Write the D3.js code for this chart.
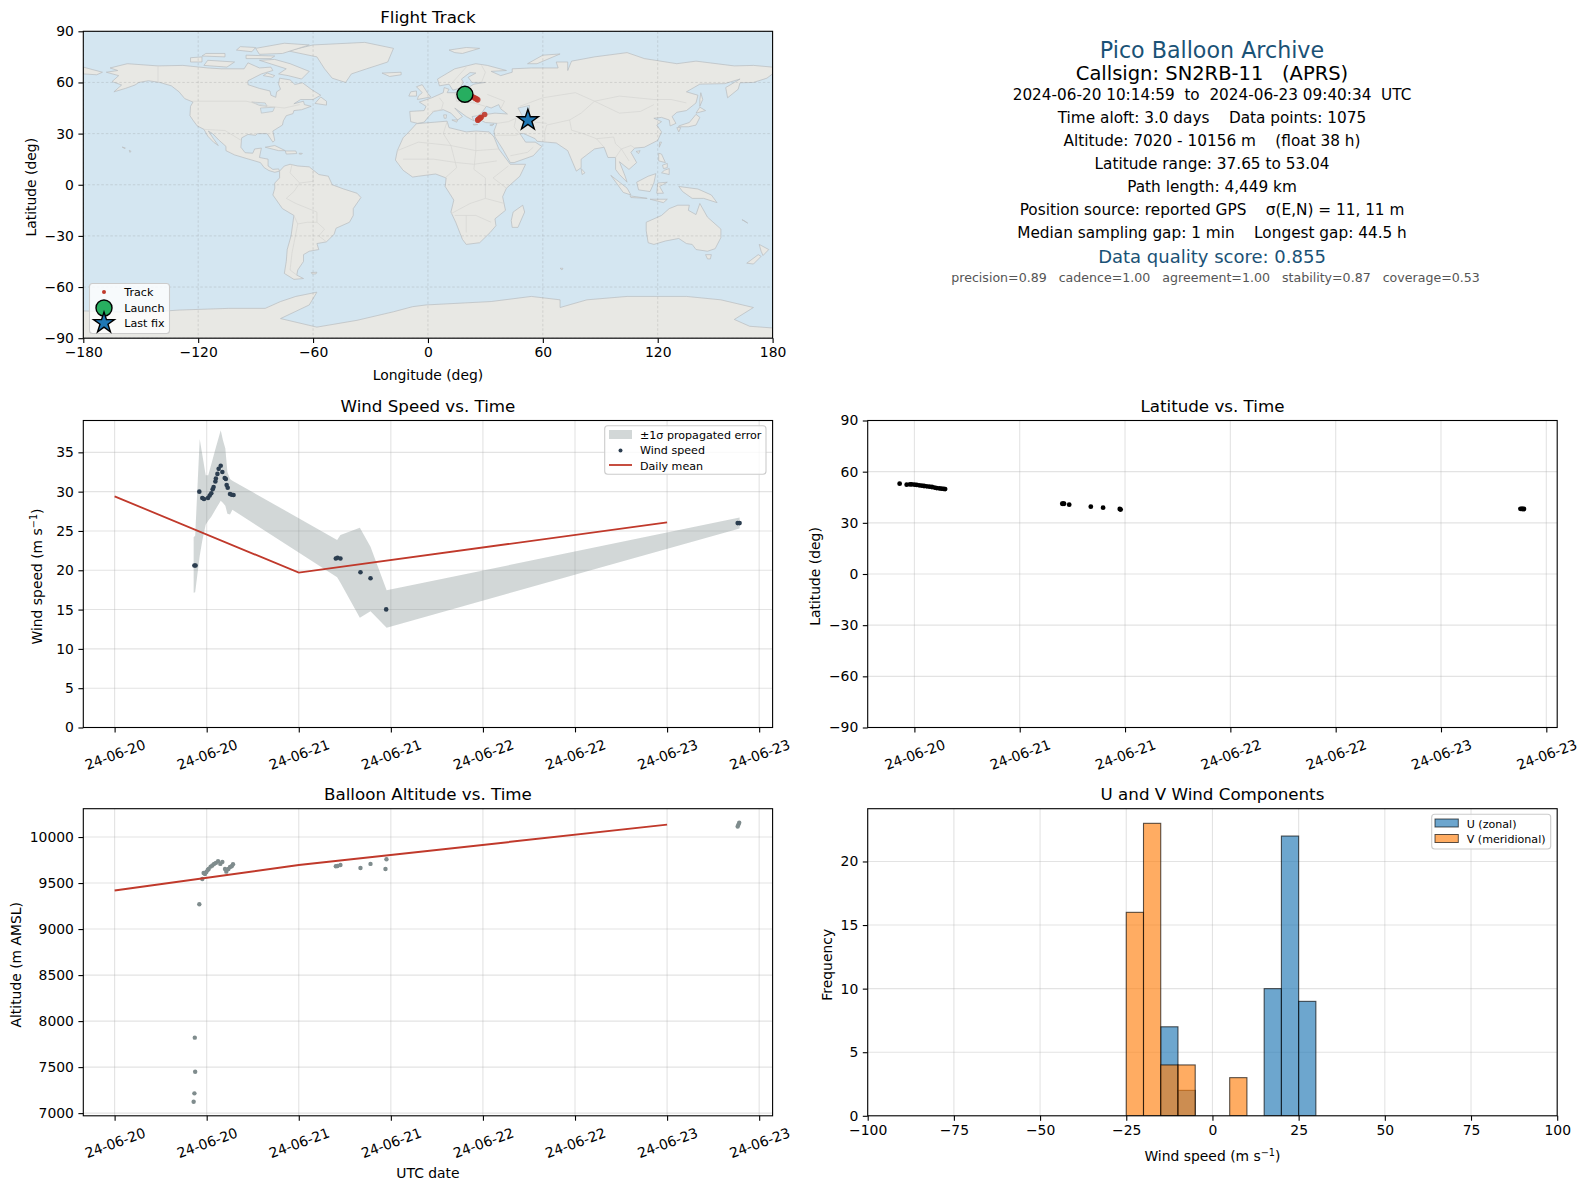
<!DOCTYPE html>
<html>
<head>
<meta charset="utf-8">
<script src="https://cdn.jsdelivr.net/npm/d3@7"></script>
<style>
  html, body { margin: 0; padding: 0; background: #fff; }
  svg { display: block; }
  text { font-family: "DejaVu Sans", sans-serif; }
  .axis path, .axis line { stroke: #000; stroke-width: 1.1; }
  .axis text { font-size: 13.9px; }
</style>
</head>
<body>
<svg id="chart" width="1588" height="1189"></svg>
<script>
// Header block
const headerLines = [
  'Time aloft: 3.0 days    Data points: 1075',
  'Altitude: 7020 - 10156 m    (float 38 h)',
  'Latitude range: 37.65 to 53.04',
  'Path length: 4,449 km',
  'Position source: reported GPS    σ(E,N) = 11, 11 m',
  'Median sampling gap: 1 min    Longest gap: 44.5 h'
];

// Land outlines, [lon, lat]
const landPolygons = [
  // North America
  [[-168,66],[-162,67],[-166,68.5],[-157,71],[-141,69.7],[-128,70],[-115,68.5],[-108,68],[-96,68],[-94,71.5],[-88,68.5],[-82,69],[-81,67],[-87,65],[-94,61],[-94,58.7],[-88,56.5],[-82.5,55],[-82,52.5],[-79.5,51.3],[-79,54.5],[-77,56],[-78,59],[-77.5,62.5],[-72,61.5],[-69.5,58.8],[-65.5,59.8],[-61,56],[-56,52.5],[-60,50],[-66.5,50],[-70,47.5],[-65,49],[-64.5,47],[-61,46],[-66,44],[-70,43.5],[-70.5,41.7],[-74,40.5],[-75.5,37.5],[-76,35],[-81,31.5],[-80,26],[-81,25],[-82.8,28],[-84,30],[-89,30],[-90,29],[-94,29.5],[-97.3,27.5],[-97.7,22],[-95.5,18.8],[-91.5,18.5],[-90.5,21],[-87,21.5],[-88,16],[-83.5,15],[-83.5,11],[-81,9],[-78,9.3],[-77.5,8],[-80,7.3],[-83,8.3],[-85.5,10],[-87.5,13],[-92,14.5],[-96,15.8],[-101,17.5],[-105.5,20],[-105.5,22.5],[-109,26],[-112.5,30],[-114.7,31.5],[-112,27],[-109.5,23],[-112,25],[-115,28.5],[-117,32.5],[-120.5,34.5],[-122.5,37.5],[-124.3,40.5],[-124,46],[-122.7,48.5],[-127,50.5],[-130,54.5],[-134,58],[-140,60],[-146,61],[-151,60],[-153,58.5],[-158,56.5],[-164,54.5],[-160,58.5],[-165,60.5],[-161.5,64],[-168,66]],
  // Greenland and Arctic islands
  [[-73,78.5],[-60,82],[-33,83.5],[-18,80],[-21,72],[-32,68],[-40,65],[-43,60],[-50,62.5],[-54,68],[-58,75],[-73,78.5]],
  [[-80,73.5],[-72,71],[-62,66.5],[-66,62],[-73,64],[-78,65],[-74,68],[-88,73]],
  [[-117,70],[-105,69],[-101,72],[-115,73]],
  [[-90,80],[-75,83],[-62,82],[-76,77],[-88,76.5]],
  [[-124,72],[-118,72],[-118,75],[-124,74.5]],
  [[-95,74],[-82,74],[-80,75.5],[-95,76]],
  [[-118,75.5],[-106,75],[-106,77],[-116,77]],
  [[-100,79],[-92,78],[-90,80.5],[-98,81]],
  [[-84,65.5],[-80,64],[-81,63],[-86,64]],
  [[-59,47.7],[-53,46.7],[-53,49],[-56,51.5]],
  // Caribbean and Hawaii
  [[-85,22],[-80,23],[-74.5,20],[-78,20]],
  [[-74.5,19.8],[-69,19.8],[-68.5,18.3],[-74,18]],
  [[-67.2,18.5],[-65.6,18.4],[-66,17.9],[-67.2,18]],
  [[-156,20.2],[-155,19.6],[-155.7,19]],
  [[-159.7,22.1],[-158,21.6],[-158.3,21.2]],
  // South America
  [[-77.5,8],[-75,11],[-72,12],[-68,11],[-62,10.5],[-57,6],[-52,5],[-50,0],[-44,-2.5],[-37,-5],[-35,-7.5],[-39,-14],[-39,-18],[-41,-22],[-48,-25.5],[-49,-29],[-53,-33.5],[-58,-34.5],[-57,-38],[-62,-39],[-65,-41],[-65,-45],[-68,-50],[-68.5,-53],[-65,-55],[-70,-55.5],[-75,-52],[-74,-45],[-73.5,-38],[-71.5,-30],[-70,-18],[-76,-14],[-81,-6],[-80,-2],[-80,1],[-77.5,4]],
  [[-61,-51.5],[-58,-51.3],[-58.5,-52.3],[-60.5,-52.3]],
  // Africa
  [[-6,35.8],[10,37.3],[11,33.5],[20,31],[25,31.5],[32,31],[34.5,28],[37,21],[43,12],[51,12],[48,5],[41,-2],[39,-7],[40.5,-15],[35,-20],[35.5,-24],[32.5,-28],[27,-34],[20,-35],[18,-32],[14.5,-22],[12,-16],[13.5,-9],[9,-1],[9.5,4],[4,6.3],[-5,5],[-8,4.5],[-13,8.5],[-17,14.5],[-16,20],[-13,27.5],[-9.5,31.5]],
  [[49.5,-12],[50.5,-16],[47,-25],[44,-25],[43.5,-21],[44.5,-16]],
  // Eurasia
  [[-9,37],[-9.5,43],[-2,43.5],[-1,46],[-4.5,48.5],[2,51],[8,54],[8.5,57],[11,56],[10,54],[14,54],[19,54.5],[21,57],[24,59],[30,60],[23,60],[21,63],[25,65.5],[22,65.8],[17.5,62],[18.5,60],[16.5,56.5],[13,55.5],[11,59],[6,58],[5,62],[14,68],[25,71],[31,70],[41,67],[33,66.5],[38,64],[44,66],[44,68],[54,68.5],[68,68.5],[67,72],[73,72],[73,67],[75,72.5],[87,75],[104,77.5],[113,74],[130,71],[140,72.5],[160,69.7],[170,70],[180,69],[180,65],[177,62.5],[170,60],[163,59.8],[162,56],[156.5,51],[155.5,57],[163,62],[155,59.3],[142,59],[135,54.5],[141,52.5],[140,48],[135,43.5],[130,42.5],[127.5,40],[129.5,36],[126.5,34.5],[126,38],[122,39.5],[118,39],[122,37],[119.5,35],[122,31],[120,26],[113,22],[108,21.5],[106,19],[109,13],[105,9],[100,13.5],[103,5],[104,1.5],[100,6],[98,9],[98,16],[94,16],[92,22],[87,21],[80,15],[80,10],[77.5,8],[73,20],[67,24.5],[57,25.5],[56,27],[50,30],[48,30],[51,25],[56,25],[59.5,22.5],[55,17],[45,13],[43,13],[39,21],[35,28],[34.5,31.5],[36,36],[30,36.5],[26.5,38.5],[26,40],[29,41],[35,42],[41.5,41.5],[38,44.5],[37,47],[33,45],[30.5,46],[28,42],[26,40.5],[23,40],[24,37.5],[20,40],[14,45],[18,40],[15.5,38],[12,42],[8,44],[3,43],[0,39.5],[-2,36.7],[-5.5,36]],
  [[-180,69],[-175,67.5],[-170,66],[-173,64.5],[-180,65]],
  // European and Arctic islands
  [[11,79],[20,80.5],[27,80],[18,77],[14,77.5]],
  [[52,71],[57,71],[69,76.7],[60,76]],
  [[-24,65.5],[-14,66],[-14,64.5],[-20,63.5]],
  [[-5.5,50],[1.5,51.5],[0,53.5],[-2,57],[-3,58.7],[-6,57.5],[-3,54],[-5,52]],
  [[-10,52],[-6,52],[-6,55],[-9,54.5]],
  [[12.5,38],[15.5,38],[15,36.7]],
  [[8.2,41],[9.7,41],[9.5,39],[8.5,39]],
  [[23.5,35.5],[26,35.3],[24,35]],
  [[32.3,35],[34.5,35.6],[33.5,34.6]],
  // East Asia
  [[130.9,34],[136,34],[140,35],[142,39.5],[140,41.3],[136.5,36.5],[131,34.5]],
  [[140,42],[145,43.5],[142,45.5]],
  [[130,33.5],[132,33.5],[131,31]],
  [[142,46],[143.5,50],[142.5,54],[142,50]],
  [[121,25],[122,25],[120.8,22]],
  [[108.7,19.5],[110.8,20],[110,18.3]],
  [[80,9.5],[82,7],[80.5,6]],
  // Maritime south-east Asia
  [[120.5,18.5],[122,18],[124,13],[120.5,14]],
  [[122,7],[126,6],[126,9.5],[123.5,8.5]],
  [[122.5,11.5],[125,12.5],[125,10],[123,9.5]],
  [[95.5,5.5],[104,-2],[106,-6],[102,-4.5]],
  [[105.5,-6.5],[114.5,-8],[106,-7.5]],
  [[109,1.5],[115,5],[119,6.5],[118,1],[116,-4],[110,-3]],
  [[119.5,-5],[120,1],[125,1.5],[121,-1],[123,-5]],
  [[116,-8.5],[125,-8.5],[123,-10.5]],
  [[131,-1],[141,-2.5],[148,-6],[151,-10.5],[144,-8],[138,-8],[133,-4]],
  // Australia and New Zealand
  [[114,-22],[122,-18],[126,-14],[130.5,-12],[136.5,-12],[136,-15],[140,-17.5],[142,-11],[146,-19],[153,-26],[153,-31],[150,-37.5],[146,-39],[140,-38],[138,-35],[135,-34.5],[131,-31.5],[124,-33],[118,-35],[115,-34],[114,-27]],
  [[145,-41],[148,-41],[147.5,-43.5],[146,-43.5]],
  [[173,-35],[178,-38],[175,-41.5],[174,-39]],
  [[172.5,-41],[174,-42],[170,-46.5],[166.5,-46]],
  [[165,-21],[167,-22.5],[164,-20.5]],
  [[69,-49],[70.5,-49],[70,-50]],
  // Antarctica
  [[-180,-90],[-180,-74],[-150,-75],[-130,-73.5],[-104,-72.5],[-85,-72.5],[-77,-68.5],[-69,-65.5],[-58,-63],[-62,-70.5],[-77,-78.5],[-58,-83.5],[-37,-79.5],[-18,-74.5],[-8,-71.5],[-1,-70.5],[33,-68.5],[54,-65.5],[69,-67.5],[69,-72],[83,-67.5],[104,-65.5],[135,-65.5],[153,-67.5],[170,-72],[160,-79],[168,-83],[180,-84],[180,-90]]
];

const lakePolygons = [
  [[47,45],[53,46.5],[53,40],[54,37],[50,37],[49,41]],
  [[-92,48.5],[-85,48],[-84,46],[-88,46.5]],
  [[-87.5,45],[-80,45.5],[-81,43],[-87,42]]
];

// Country borders, [lon, lat]
const borderLines = [
  [[-123,49],[-95,49],[-83,46],[-75,45],[-67,47]],
  [[-141,70],[-141,60]],
  [[-117,32.5],[-106,31.8],[-97.5,26]],
  [[-71,12],[-72,7],[-67,1],[-70,-4],[-74,-8],[-69,-11],[-58,-16],[-58,-22],[-54,-26],[-57,-30],[-53,-33.5]],
  [[-60,8],[-60,2],[-67,1]],
  [[-70,-18],[-68,-23],[-71,-40],[-72,-50],[-68.5,-53]],
  [[-58,-22],[-63,-22],[-68,-23]],
  [[-16,20],[-5,25],[12,23],[25,20],[37,21]],
  [[10,37],[8,30],[12,23],[15,10],[9,4]],
  [[25,31],[25,20],[24,9],[30,4],[30,-8],[22,-11],[12,-17]],
  [[-13,15],[3,15],[15,13],[24,12],[36,14]],
  [[30,-8],[40,-11]],[[14,-18],[25,-18],[33,-22]],[[20,-28],[20,-18]],
  [[34,4],[41,-2]],[[34,4],[42,11]],
  [[2,43],[7,44],[8,48],[6,51]],[[14,54],[15,49],[24,48],[30,46]],[[24,54],[24,48]],[[31,53],[40,49],[38,44.5]],
  [[28,60],[30,66],[28,70]],[[12,59],[20,69]],
  [[48,46],[60,51],[77,54],[87,49],[100,52],[118,50],[127,50],[135,48]],
  [[87,49],[80,42],[74,38],[62,35],[61,31],[61,25]],
  [[54,37],[62,36]],[[46,39],[45,34],[48,30]],[[36,36],[42,37],[46,39]],[[35,29],[46,29],[48,30]],[[43,17],[52,19],[55,22]],
  [[74,38],[75,32],[81,30],[88,27],[97,28],[98,24],[101,21],[106,23],[108,21.5]],
  [[88,27],[92,22]],[[98,16],[101,21]],[[101,21],[105,14]],
  [[87,49],[100,42],[111,43],[118,47]]
];

// Track fixes
const trackLon = [19.3, 21, 22.5, 23.5, 24.3, 24.9, 25.5, 26, 29.6, 27.8, 27.3, 26.8, 26.3, 26, 52.2];
const trackLat = [53.04, 52.4, 52, 51.5, 51, 50.6, 50.2, 49.8, 41.2, 39.6, 39.2, 38.7, 38.2, 37.9, 38];
const launchFix = [19.3, 53.04];
const lastFix = [52.2, 37.9];

// Times are hours after 2024-06-20 00:00 UTC
const windHours = [10.4, 10.55, 11.04, 11.43, 11.65, 12.17, 12.39, 12.6, 12.78, 12.9, 13.13, 13.2, 13.4, 13.56, 13.83, 14.04, 14.35, 14.5, 14.6, 14.74, 15.04, 15.26, 15.5, 28.83, 29.05, 29.43, 32.04, 33.35, 35.39, 81.2, 81.45];
const windSpeed = [20.6, 20.6, 30.0, 29.2, 29.06, 29.2, 29.5, 29.8, 30.3, 30.6, 31.3, 31.66, 32.26, 32.9, 33.3, 32.5, 31.74, 31.6, 30.85, 30.5, 29.7, 29.6, 29.57, 21.5, 21.6, 21.5, 19.74, 18.98, 15.02, 26.0, 26.0];

const bandHours = [10.3, 10.5, 11.09, 11.43, 11.87, 12.2, 12.6, 13.13, 13.83, 14.13, 14.43, 14.7, 15.04, 15.35, 29, 29.43, 31.96, 33.35, 35.45, 81.45];
const bandUpper = [24.2, 24.4, 36.7, 34.7, 32.1, 32.1, 33.5, 35.4, 37.8, 36.5, 35.5, 32.5, 31.6, 31.4, 23.85, 24.5, 25.4, 23.0, 17.45, 26.7];
const bandLower = [17.15, 17.2, 21.8, 23.8, 25.8, 26.3, 26.8, 27.7, 28.85, 28.55, 28.2, 27.2, 27.1, 27.7, 19.1, 18.4, 13.97, 14.8, 12.7, 25.3];

const dailyHours = [0, 24, 72];
const dailyWind = [29.4, 19.7, 26.1];
const dailyAltitude = [9420, 9695, 10135];

const altHours = [10.3, 10.4, 10.5, 10.45, 11.04, 11.43, 11.6, 11.78, 11.96, 12.13, 12.26, 12.52, 12.74, 12.96, 13.2, 13.48, 13.78, 14.04, 14.39, 14.56, 14.83, 15.04, 15.26, 15.43, 28.83, 29.05, 29.43, 32.04, 33.35, 35.3, 35.43, 81.2, 81.3, 81.4];
const altitude = [7123, 7215, 7450, 7820, 9270, 9544, 9609, 9599, 9620, 9642, 9653, 9679, 9690, 9708, 9719, 9737, 9708, 9730, 9653, 9624, 9653, 9675, 9682, 9704, 9682, 9686, 9697, 9664, 9708, 9653, 9759, 10115, 10135, 10156];

const latHours = [10.32, 11.12, 11.5, 11.7, 12, 12.27, 12.55, 12.84, 13.1, 13.4, 13.7, 14, 14.3, 14.55, 14.85, 15.1, 15.35, 15.5, 28.85, 28.95, 29.05, 29.64, 32.1, 33.5, 35.4, 35.5, 81.05, 81.2, 81.3, 81.45];
const latitude = [52.97, 52.4, 52.5, 52.6, 52.4, 52.2, 52, 51.8, 51.6, 51.4, 51.2, 51, 50.7, 50.4, 50.2, 50, 49.9, 49.8, 41.2, 41.25, 41.2, 40.65, 39.5, 38.9, 38.1, 37.8, 38.2, 38.2, 38.1, 38.1];

// Histogram bins, [left edge, count]
const uBins = [[-15, 7], [-10, 2], [15, 10], [20, 22], [25, 9]];
const vBins = [[-25, 16], [-20, 23], [-15, 4], [-10, 4], [5, 3]];
const binWidth = 5;

// Axis ticks and labels
const lonTicks = [-180, -120, -60, 0, 60, 120, 180];
const latTicks = [-90, -60, -30, 0, 30, 60, 90];
const windTicks = [0, 5, 10, 15, 20, 25, 30, 35];
const altTicks = [7000, 7500, 8000, 8500, 9000, 9500, 10000];
const leftTimeTicks = [0, 12, 24, 36, 48, 60, 72, 84];
const rightTimeTicks = [12, 24, 36, 48, 60, 72, 84];
const histXTicks = [-100, -75, -50, -25, 0, 25, 50, 75, 100];
const histYTicks = [0, 5, 10, 15, 20];

const RED = '#c0392b';
const NAVY = '#1a5276';
const GRID = '#b0b0b0';

const svg = d3.select('#chart');
const hoursToDate = h => new Date(Date.UTC(2024, 5, 20) + h * 3600000);
const dateFmt = d3.utcFormat('%y-%m-%d');

// Panel boxes
const boxes = {
  map:  { l: 83.3, r: 772.6, t: 31.3, b: 338.2 },
  wind: { l: 83.3, r: 772.6, t: 420.5, b: 727.5 },
  lat:  { l: 867.7, r: 1557.2, t: 420.5, b: 727.5 },
  alt:  { l: 83.3, r: 772.6, t: 808.7, b: 1115.8 },
  hist: { l: 867.7, r: 1557.2, t: 808.7, b: 1115.8 }
};

let clipCount = 0;

// Text with a mathtext style m s^-1 unit
function unitText(sel, label) {
  sel.append('tspan').text(label);
  sel.append('tspan').attr('font-size', 9.7).attr('dy', -5).text('−1');
  sel.append('tspan').attr('dy', 5).text(')');
}

function panel(box, xScale, yScale, opts) {
  const g = svg.append('g');
  const id = 'clip' + (clipCount++);
  g.append('clipPath').attr('id', id).append('rect')
    .attr('x', box.l).attr('y', box.t).attr('width', box.r - box.l).attr('height', box.b - box.t);

  const plot = g.append('g').attr('clip-path', `url(#${id})`);
  if (opts.background) {
    opts.background(plot);
  }

  // Grid below the marks
  const grid = plot.append('g')
    .attr('stroke', opts.gridColor || GRID)
    .attr('stroke-opacity', opts.gridOpacity || 0.35)
    .attr('stroke-width', opts.gridWidth || 1.1)
    .attr('stroke-dasharray', opts.gridDash || null);
  opts.xTicks.forEach(v => {
    grid.append('line').attr('x1', xScale(opts.xValue(v))).attr('x2', xScale(opts.xValue(v)))
      .attr('y1', box.t).attr('y2', box.b);
  });
  opts.yTicks.forEach(v => {
    grid.append('line').attr('y1', yScale(v)).attr('y2', yScale(v))
      .attr('x1', box.l).attr('x2', box.r);
  });

  opts.marks(plot);

  // Axes
  const xAxis = d3.axisBottom(xScale)
    .tickValues(opts.xTicks.map(opts.xValue))
    .tickFormat(opts.xFormat)
    .tickSize(4.9).tickPadding(4.5);
  const xg = g.append('g').attr('class', 'axis')
    .attr('transform', `translate(0,${box.b})`).call(xAxis);
  if (opts.rotateX) {
    xg.selectAll('.tick text')
      .attr('text-anchor', 'middle')
      .attr('dominant-baseline', 'central')
      .attr('y', 0).attr('dy', 0)
      .attr('transform', 'translate(0,27) rotate(-20)');
  }
  const yAxis = d3.axisLeft(yScale).tickValues(opts.yTicks)
    .tickFormat(opts.yFormat || (v => String(v).replace('-', '−')))
    .tickSize(4.9).tickPadding(4.5);
  g.append('g').attr('class', 'axis').attr('transform', `translate(${box.l},0)`).call(yAxis);
  g.selectAll('.domain').remove();

  g.append('rect').attr('x', box.l).attr('y', box.t)
    .attr('width', box.r - box.l).attr('height', box.b - box.t)
    .attr('fill', 'none').attr('stroke', '#000').attr('stroke-width', 1.1);

  // Labels
  g.append('text').attr('x', (box.l + box.r) / 2).attr('y', box.t - (opts.titleGap || 9))
    .attr('text-anchor', 'middle').attr('font-size', 16.7).text(opts.title);
  if (opts.xLabel) {
    const xl = g.append('text').attr('x', (box.l + box.r) / 2).attr('y', opts.xLabelY)
      .attr('text-anchor', 'middle').attr('font-size', 13.9);
    if (opts.xLabelUnit) unitText(xl, opts.xLabel);
    else xl.text(opts.xLabel);
  }
  const yl = g.append('text')
    .attr('transform', `translate(${opts.yLabelX},${(box.t + box.b) / 2 + 2.5}) rotate(-90)`)
    .attr('text-anchor', 'middle').attr('font-size', 13.9);
  if (opts.yLabelUnit) unitText(yl, opts.yLabel);
  else yl.text(opts.yLabel);
  return g;
}

function legendBox(x, y, w, h) {
  svg.append('rect').attr('x', x).attr('y', y).attr('width', w).attr('height', h)
    .attr('rx', 3).attr('fill', '#fff').attr('fill-opacity', 0.8)
    .attr('stroke', '#ccc').attr('stroke-width', 1.1);
}

function legendText(x, y, str) {
  svg.append('text').attr('x', x).attr('y', y).attr('font-size', 11.1)
    .attr('dominant-baseline', 'central').text(str);
}

const starPath = d3.symbol().type(d3.symbolStar).size(135)();

// Flight track map
{
  const box = boxes.map;
  const x = d3.scaleLinear().domain([-180, 180]).range([box.l, box.r]);
  const y = d3.scaleLinear().domain([-90, 90]).range([box.b, box.t]);
  const ring = d3.line().x(d => x(d[0])).y(d => y(d[1]));
  panel(box, x, y, {
    title: 'Flight Track', titleGap: 8,
    xTicks: lonTicks, yTicks: latTicks, xValue: v => v,
    xFormat: v => String(v).replace('-', '−'),
    xLabel: 'Longitude (deg)', xLabelY: 380,
    yLabel: 'Latitude (deg)', yLabelX: 36,
    gridColor: '#808080', gridOpacity: 0.28, gridWidth: 0.8, gridDash: '2.5,2',
    background: p => {
      p.append('rect').attr('x', box.l).attr('y', box.t)
        .attr('width', box.r - box.l).attr('height', box.b - box.t).attr('fill', '#d4e6f1');
      p.selectAll('path.land').data(landPolygons).join('path').attr('class', 'land')
        .attr('d', d => ring(d) + 'Z')
        .attr('fill', '#e8e8e4').attr('stroke', '#b8bcbe').attr('stroke-width', 0.7);
      p.selectAll('path.lake').data(lakePolygons).join('path').attr('class', 'lake')
        .attr('d', d => ring(d) + 'Z')
        .attr('fill', '#d4e6f1').attr('stroke', '#b8bcbe').attr('stroke-width', 0.6);
      p.selectAll('path.border').data(borderLines).join('path').attr('class', 'border')
        .attr('d', ring)
        .attr('fill', 'none').attr('stroke', '#d6d6d2').attr('stroke-width', 0.7);
    },
    marks: p => {
      p.selectAll('circle').data(d3.range(trackLon.length)).join('circle')
        .attr('cx', i => x(trackLon[i])).attr('cy', i => y(trackLat[i]))
        .attr('r', 2.8).attr('fill', RED).attr('fill-opacity', 0.9);
      p.append('circle').attr('cx', x(launchFix[0])).attr('cy', y(launchFix[1])).attr('r', 8)
        .attr('fill', '#27ae60').attr('stroke', '#000').attr('stroke-width', 1.4);
      p.append('path').attr('d', starPath)
        .attr('transform', `translate(${x(lastFix[0])},${y(lastFix[1])})`)
        .attr('fill', '#1f77b4').attr('stroke', '#000').attr('stroke-width', 1.4);
    }
  });
  legendBox(89.5, 283.5, 80, 50);
  svg.append('circle').attr('cx', 104).attr('cy', 292).attr('r', 2).attr('fill', RED);
  svg.append('circle').attr('cx', 104).attr('cy', 308).attr('r', 8)
    .attr('fill', '#27ae60').attr('stroke', '#000').attr('stroke-width', 1.4);
  svg.append('path').attr('d', starPath).attr('transform', 'translate(104,323)')
    .attr('fill', '#1f77b4').attr('stroke', '#000').attr('stroke-width', 1.4);
  legendText(124.3, 292, 'Track');
  legendText(124.3, 308, 'Launch');
  legendText(124.3, 323, 'Last fix');
}

// Summary text
{
  const cx = 1212;
  const put = (y, size, fill, str, shift = 0) => svg.append('text').attr('x', cx + shift).attr('y', y)
    .attr('text-anchor', 'middle').attr('font-size', size).attr('fill', fill)
    .style('white-space', 'pre').text(str);
  put(58, 22.2, NAVY, 'Pico Balloon Archive');
  put(79.5, 19.5, '#000', 'Callsign: SN2RB-11   (APRS)');
  put(100, 15.25, '#000', '2024-06-20 10:14:59  to  2024-06-23 09:40:34  UTC');
  headerLines.forEach((line, i) => put(123 + i * 23, 15.3, '#000', line));
  put(263, 18, NAVY, 'Data quality score: 0.855');
  put(282, 12.6, '#555', 'precision=0.89   cadence=1.00   agreement=1.00   stability=0.87   coverage=0.53', 3.5);
}

// Wind speed vs. time
{
  const box = boxes.wind;
  const x = d3.scaleUtc().domain([hoursToDate(-4.08), hoursToDate(85.75)]).range([box.l, box.r]);
  const y = d3.scaleLinear().domain([0, 39.05]).range([box.b, box.t]);
  panel(box, x, y, {
    title: 'Wind Speed vs. Time',
    xTicks: leftTimeTicks, yTicks: windTicks, xValue: hoursToDate, xFormat: dateFmt,
    rotateX: true,
    yLabel: 'Wind speed (m s', yLabelUnit: true, yLabelX: 42,
    marks: p => {
      const band = d3.area()
        .x(i => x(hoursToDate(bandHours[i])))
        .y0(i => y(bandLower[i]))
        .y1(i => y(bandUpper[i]));
      p.append('path').attr('d', band(d3.range(bandHours.length)))
        .attr('fill', '#7f8c8d').attr('fill-opacity', 0.35);
      p.selectAll('circle').data(d3.range(windHours.length)).join('circle')
        .attr('cx', i => x(hoursToDate(windHours[i]))).attr('cy', i => y(windSpeed[i]))
        .attr('r', 2.3).attr('fill', '#2c3e50');
      const line = d3.line().x(i => x(hoursToDate(dailyHours[i]))).y(i => y(dailyWind[i]));
      p.append('path').attr('d', line(d3.range(dailyHours.length)))
        .attr('fill', 'none').attr('stroke', RED).attr('stroke-width', 1.8);
    }
  });
  legendBox(604.7, 425.7, 161.3, 48.6);
  svg.append('rect').attr('x', 609).attr('y', 430).attr('width', 23).attr('height', 9)
    .attr('fill', '#7f8c8d').attr('fill-opacity', 0.35);
  svg.append('circle').attr('cx', 620.5).attr('cy', 450.5).attr('r', 2).attr('fill', '#2c3e50');
  svg.append('line').attr('x1', 609).attr('x2', 632).attr('y1', 465).attr('y2', 465)
    .attr('stroke', RED).attr('stroke-width', 1.8);
  legendText(640, 435.3, '±1σ propagated error');
  legendText(640, 450.3, 'Wind speed');
  legendText(640, 466, 'Daily mean');
}

// Latitude vs. time
{
  const box = boxes.lat;
  const x = d3.scaleUtc().domain([hoursToDate(6.68), hoursToDate(85.24)]).range([box.l, box.r]);
  const y = d3.scaleLinear().domain([-90, 90]).range([box.b, box.t]);
  panel(box, x, y, {
    title: 'Latitude vs. Time',
    xTicks: rightTimeTicks, yTicks: latTicks, xValue: hoursToDate, xFormat: dateFmt,
    rotateX: true,
    yLabel: 'Latitude (deg)', yLabelX: 820,
    marks: p => {
      p.selectAll('circle').data(d3.range(latHours.length)).join('circle')
        .attr('cx', i => x(hoursToDate(latHours[i]))).attr('cy', i => y(latitude[i]))
        .attr('r', 2.4).attr('fill', '#000');
    }
  });
}

// Altitude vs. time
{
  const box = boxes.alt;
  const x = d3.scaleUtc().domain([hoursToDate(-4.08), hoursToDate(85.75)]).range([box.l, box.r]);
  const y = d3.scaleLinear().domain([6971, 10308]).range([box.b, box.t]);
  panel(box, x, y, {
    title: 'Balloon Altitude vs. Time',
    xTicks: leftTimeTicks, yTicks: altTicks, xValue: hoursToDate, xFormat: dateFmt,
    rotateX: true,
    xLabel: 'UTC date', xLabelY: 1178,
    yLabel: 'Altitude (m AMSL)', yLabelX: 21,
    yFormat: v => String(v),
    marks: p => {
      p.selectAll('circle').data(d3.range(altHours.length)).join('circle')
        .attr('cx', i => x(hoursToDate(altHours[i]))).attr('cy', i => y(altitude[i]))
        .attr('r', 2.2).attr('fill', '#7f8c8d');
      const line = d3.line().x(i => x(hoursToDate(dailyHours[i]))).y(i => y(dailyAltitude[i]));
      p.append('path').attr('d', line(d3.range(dailyHours.length)))
        .attr('fill', 'none').attr('stroke', RED).attr('stroke-width', 2);
    }
  });
}

// U and V histogram
{
  const box = boxes.hist;
  const x = d3.scaleLinear().domain([-100, 100]).range([box.l, box.r]);
  const y = d3.scaleLinear().domain([0, 24.15]).range([box.b, box.t]);
  panel(box, x, y, {
    title: 'U and V Wind Components',
    xTicks: histXTicks, yTicks: histYTicks, xValue: v => v,
    xFormat: v => String(v).replace('-', '−'),
    xLabel: 'Wind speed (m s', xLabelUnit: true, xLabelY: 1161,
    yLabel: 'Frequency', yLabelX: 832,
    marks: p => {
      [[uBins, '#1f77b4'], [vBins, '#ff7f0e']].forEach(([bins, color]) => {
        p.append('g').selectAll('rect').data(bins).join('rect')
          .attr('x', d => x(d[0])).attr('width', d => x(d[0] + binWidth) - x(d[0]))
          .attr('y', d => y(d[1])).attr('height', d => y(0) - y(d[1]))
          .attr('fill', color).attr('fill-opacity', 0.65)
          .attr('stroke', '#000').attr('stroke-opacity', 0.65).attr('stroke-width', 1.1);
      });
    }
  });
  legendBox(1431.7, 814.3, 119, 34.7);
  svg.append('rect').attr('x', 1435).attr('y', 819).attr('width', 23.3).attr('height', 8)
    .attr('fill', '#1f77b4').attr('fill-opacity', 0.65).attr('stroke', '#000').attr('stroke-opacity', 0.65);
  svg.append('rect').attr('x', 1435).attr('y', 834.5).attr('width', 23.3).attr('height', 8)
    .attr('fill', '#ff7f0e').attr('fill-opacity', 0.65).attr('stroke', '#000').attr('stroke-opacity', 0.65);
  legendText(1466.7, 824, 'U (zonal)');
  legendText(1466.7, 839.3, 'V (meridional)');
}
</script>
</body>
</html>
